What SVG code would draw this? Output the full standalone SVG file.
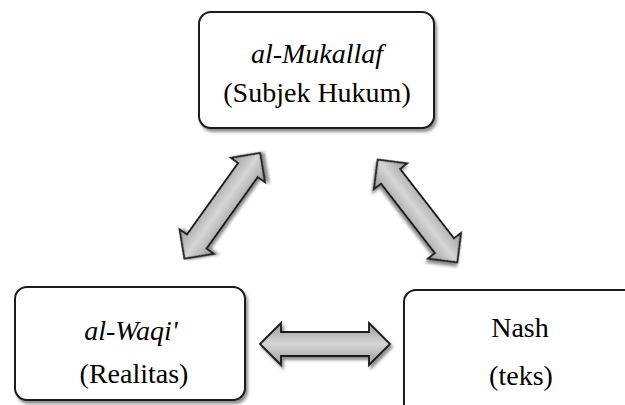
<svg xmlns="http://www.w3.org/2000/svg" width="625" height="405" viewBox="0 0 625 405">
  <defs>
    <filter id="shadow" x="-20%" y="-20%" width="140%" height="140%">
      <feGaussianBlur in="SourceAlpha" stdDeviation="1.8"/>
      <feOffset dx="2" dy="3" result="b"/>
      <feComponentTransfer><feFuncA type="linear" slope="0.45"/></feComponentTransfer>
      <feMerge><feMergeNode/><feMergeNode in="SourceGraphic"/></feMerge>
    </filter>
    <linearGradient id="grey" x1="0" y1="0" x2="0" y2="1">
      <stop offset="0" stop-color="#9a9a9a"/>
      <stop offset="0.5" stop-color="#d6d6d6"/>
      <stop offset="1" stop-color="#9a9a9a"/>
    </linearGradient>
    <path id="dbl" d="M-65,0 L-44,-21 L-44,-12 L44,-12 L44,-21 L65,0 L44,21 L44,12 L-44,12 L-44,21 Z"/>
  </defs>
  <style>
    .box { fill: #ffffff; stroke: #1a1a1a; stroke-width: 2; filter: url(#shadow); }
    .arrow { fill: url(#grey); stroke: #1a1a1a; stroke-width: 1.8; stroke-linejoin: miter; filter: url(#shadow); }
  </style>
  <rect width="625" height="405" fill="#ffffff"/>

  <g id="connectors">
    <use href="#dbl" class="arrow" transform="translate(222.3,205.8) rotate(-54.4)"/>
    <use href="#dbl" class="arrow" transform="translate(417.5,211) rotate(52.2)"/>
    <use href="#dbl" class="arrow" transform="translate(325,344)"/>
  </g>

  <g id="mukallaf">
    <rect class="box" x="199" y="12" width="235" height="116" rx="12" ry="12"/>
    <text x="317" y="63" font-family="Liberation Serif, serif" font-size="28" font-style="italic" text-anchor="middle">al-Mukallaf</text>
    <text x="317" y="102" font-family="Liberation Serif, serif" font-size="28" text-anchor="middle">(Subjek Hukum)</text>
  </g>

  <g id="waqi">
    <rect class="box" x="15" y="287" width="230" height="113" rx="12" ry="12"/>
    <text x="131" y="340" font-family="Liberation Serif, serif" font-size="28" font-style="italic" text-anchor="middle">al-Waqi'</text>
    <text x="134" y="383" font-family="Liberation Serif, serif" font-size="28" text-anchor="middle">(Realitas)</text>
  </g>

  <g id="nash">
    <rect class="box" x="404" y="290" width="240" height="140" rx="12" ry="12"/>
    <text x="520" y="337" font-family="Liberation Serif, serif" font-size="28" text-anchor="middle">Nash</text>
    <text x="521" y="385" font-family="Liberation Serif, serif" font-size="28" text-anchor="middle">(teks)</text>
  </g>
</svg>
